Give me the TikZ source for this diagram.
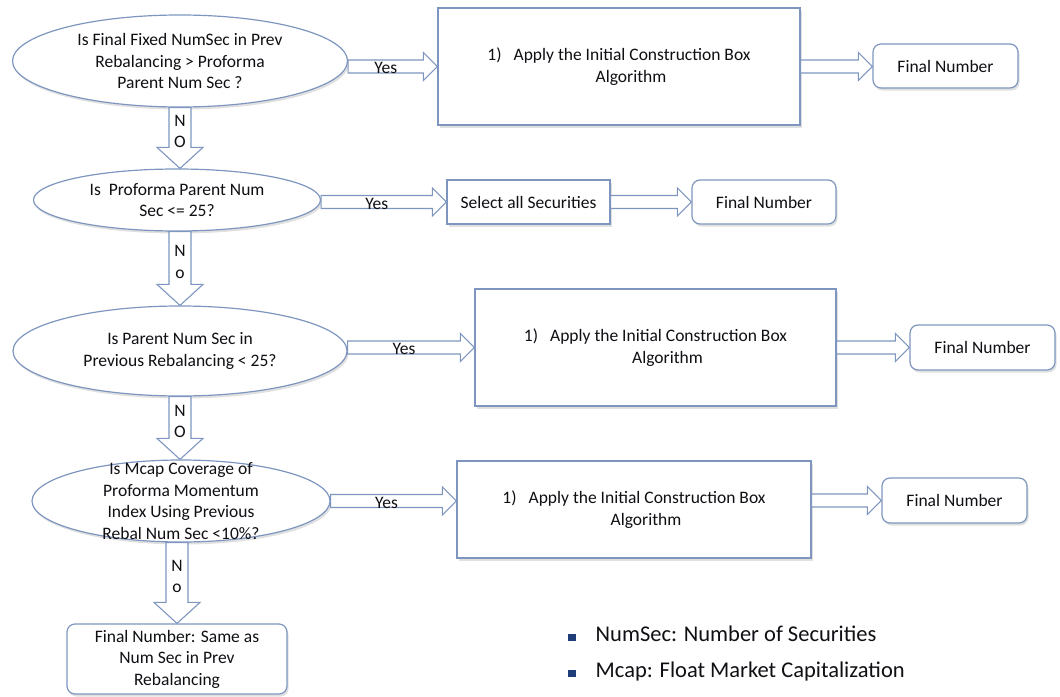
\documentclass[tikz,border=0pt]{standalone}
\usepackage{fontspec}
\setmainfont{Carlito}
\usetikzlibrary{shapes.geometric,calc,shadows}
\definecolor{boxline}{RGB}{126,150,191}
\definecolor{bulletblue}{RGB}{31,61,120}
\definecolor{ink}{RGB}{15,15,20}

\tikzset{
  shapebase/.style={draw=boxline, line width=1.2pt, fill=white, text=ink, align=center, inner sep=0pt,
    drop shadow={shadow xshift=1.5pt, shadow yshift=-2.5pt, fill=black, opacity=0.12}},
  decision/.style={shapebase, ellipse},
  process/.style={shapebase, rectangle},
  terminal/.style={shapebase, rectangle, rounded corners=8pt},
  flowarrow/.style={draw=boxline, line width=1.1pt, fill=white, line join=miter, text=ink},
}

% block arrow to the right: from (#1) to the x of (#2)
\newcommand{\harrow}[3]{%
  \draw[flowarrow] let \p1=(#1), \p2=(#2) in
    (\x1,\y1+6.5pt) -- (\x2-14pt,\y1+6.5pt) -- (\x2-14pt,\y1+14pt) -- (\x2,\y1)
    -- (\x2-14pt,\y1-14pt) -- (\x2-14pt,\y1-6.5pt) -- (\x1,\y1-6.5pt) -- cycle
    node at ({(\x1+\x2-14pt)/2},\y1-1.5pt) {#3};}
% block arrow downwards: from (#1) to the y of (#2)
\newcommand{\varrow}[3]{%
  \draw[flowarrow] let \p1=(#1), \p2=(#2) in
    (\x1-11pt,\y1) -- (\x1-11pt,\y2+21pt) -- (\x1-23pt,\y2+21pt) -- (\x1,\y2)
    -- (\x1+23pt,\y2+21pt) -- (\x1+11pt,\y2+21pt) -- (\x1+11pt,\y1) -- cycle
    node[align=center] at (\x1,{(\y1+\y2+21pt)/2-4pt}) {#3};}

\begin{document}
\begin{tikzpicture}[x=1pt, y=-1pt, font=\fontsize{17.5}{21.5}\selectfont]
\useasboundingbox (0,0) rectangle (1060,696);

% questions
\node[decision, minimum width=335, minimum height=92] (e1) at (180,61)
  {Is Final Fixed NumSec in Prev\\Rebalancing > Proforma\\Parent Num Sec ?};
\node[decision, minimum width=287, minimum height=62] (e2) at (177,200)
  {Is\ \ Proforma Parent Num\\Sec <= 25?};
\node[decision, minimum width=334, minimum height=90] (e3) at (180,351)
  {Is Parent Num Sec in\\Previous Rebalancing < 25?};
\node[decision, minimum width=298, minimum height=82, inner ysep=-22pt] (e4) at (181,501)
  {Is Mcap Coverage of\\Proforma Momentum\\Index Using Previous\\Rebal Num Sec <10\%?};

% actions
\node[process, minimum width=362, minimum height=117] (b1) at (619,66.5)
  {1)\hspace{12pt}Apply the Initial Construction Box\\\hspace*{24pt}Algorithm};
\node[process, minimum width=163, minimum height=44] (s2) at (528.5,202)
  {Select all Securities};
\node[process, minimum width=361, minimum height=117] (b3) at (655.5,347.5)
  {1)\hspace{12pt}Apply the Initial Construction Box\\\hspace*{24pt}Algorithm};
\node[process, minimum width=354, minimum height=97] (b4) at (634,509.5)
  {1)\hspace{12pt}Apply the Initial Construction Box\\\hspace*{24pt}Algorithm};

% results
\node[terminal, minimum width=145, minimum height=44] (f1) at (945.5,66) {Final Number};
\node[terminal, minimum width=144, minimum height=44] (f2) at (764,202) {Final Number};
\node[terminal, minimum width=145, minimum height=45] (f3) at (982.5,347.5) {Final Number};
\node[terminal, minimum width=145, minimum height=45] (f4) at (954.5,500.5) {Final Number};
\node[terminal, minimum width=220, minimum height=70] (fin) at (177,659)
  {Final Number: Same as\\Num Sec in Prev\\Rebalancing};

% yes branches
\harrow{e1.east |- b1.west}{b1.west}{Yes}
\harrow{b1.east}{f1.west}{}
\harrow{e2.east |- s2.west}{s2.west}{Yes}
\harrow{s2.east}{f2.west}{}
\harrow{e3.east |- b3.west}{b3.west}{Yes}
\harrow{b3.east}{f3.west}{}
\harrow{e4.east}{e4.east -| b4.west}{Yes}
\harrow{b4.east |- f4.west}{f4.west}{}

% no branches
\varrow{e1.south}{e2.north}{N\\O}
\varrow{e2.south -| e3.north}{e3.north}{N\\o}
\varrow{e3.south}{e4.north}{N\\O}
\varrow{e4.south -| fin.north}{fin.north}{N\\o}

% legend
\node[anchor=base west, inner sep=0pt, text=ink, font=\fontsize{22.5}{27}\selectfont] (k1) at (568,641)
  {\textcolor{bulletblue}{\rule{7.5pt}{7.5pt}}\hspace{20pt}NumSec: Number of Securities};
\node[anchor=base west, inner sep=0pt, text=ink, font=\fontsize{22.5}{27}\selectfont] (k2) at (568,677)
  {\textcolor{bulletblue}{\rule{7.5pt}{7.5pt}}\hspace{20pt}Mcap: Float Market Capitalization};
\end{tikzpicture}
\end{document}
